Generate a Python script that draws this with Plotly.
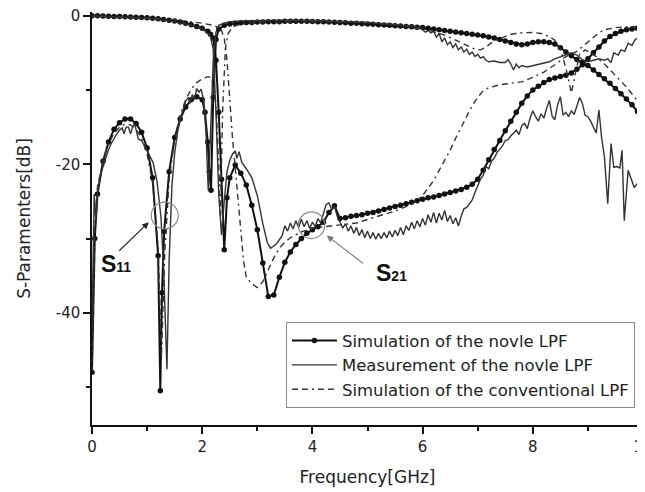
import plotly.graph_objects as go

# ---------------- data ----------------
# Simulation of the novel LPF
F_S21_SIM = [0.0,0.1,0.2,0.3,0.4,0.5,0.6,0.7,0.8,0.9,1.0,1.1,1.2,1.3,1.4,1.5,1.6,1.7,1.8,1.9,2.0,2.1,2.15,2.2,2.25,2.3,2.35,2.4,2.45,2.5,
             2.6,2.7,2.8,2.9,3.0,3.1,3.2,3.3,3.4,3.5,3.6,3.7,3.8,3.9,4.0,4.1,4.2,4.3,4.4,4.5,4.6,4.7,4.8,4.9,5.0,
             5.1,5.2,5.3,5.4,5.5,5.6,5.7,5.8,5.9,6.0,6.1,6.2,6.3,6.4,6.5,6.6,6.7,6.8,6.9,7.0,7.1,7.2,7.3,7.4,7.5,
             7.6,7.7,7.8,7.9,8.0,8.1,8.2,8.3,8.4,8.5,8.6,8.7,8.8,8.9,9.0,9.1,9.2,9.3,9.4,9.5,9.6,9.7,9.8,9.9,10.0]
S21_SIM = [0.0,-0.02,-0.04,-0.06,-0.09,-0.12,-0.15,-0.18,-0.21,-0.25,-0.29,-0.34,-0.42,-0.52,-0.62,-0.72,-0.85,-1.0,-1.2,-1.45,-1.7,-2.1,-2.5,-3.0,-6.0,-13.0,-22.0,-31.5,-24.5,-21.8,
           -20.1,-21.2,-22.8,-25.5,-28.8,-33.3,-37.8,-37.6,-35.2,-33.2,-31.8,-30.8,-30.0,-29.3,-28.8,-28.4,-27.8,-26.5,-25.6,-27.3,-27.2,-27.0,-26.9,-26.8,-26.6,
           -26.5,-26.3,-26.1,-25.9,-25.7,-25.5,-25.3,-25.1,-24.9,-24.7,-24.5,-24.4,-24.2,-24.0,-23.8,-23.6,-23.4,-23.1,-22.7,-22.0,-20.8,-19.4,-18.0,-16.8,-15.5,
           -14.2,-13.0,-11.8,-10.8,-10.0,-9.5,-9.0,-8.6,-8.4,-8.2,-8.0,-7.7,-7.2,-6.6,-5.8,-5.0,-4.2,-3.4,-2.8,-2.4,-2.1,-1.9,-1.8,-1.7,-1.6]

F_S11_SIM = [0.0,0.05,0.1,0.2,0.3,0.4,0.5,0.6,0.7,0.8,0.9,1.0,1.1,1.2,1.24,1.27,1.31,1.4,1.5,1.6,1.7,1.8,1.9,2.0,2.05,2.1,2.13,2.16,2.2,2.25,
             2.3,2.4,2.5,2.6,2.7,2.8,2.9,3.0,3.1,3.2,3.3,3.4,3.5,3.6,3.7,3.8,3.9,4.0,4.1,4.2,4.3,4.4,4.5,4.6,4.7,4.8,4.9,5.0,
             5.1,5.2,5.3,5.4,5.5,5.6,5.7,5.8,5.9,6.0,6.1,6.2,6.3,6.4,6.5,6.6,6.7,6.8,6.9,7.0,7.1,7.2,7.3,7.4,7.5,
             7.6,7.7,7.8,7.9,8.0,8.1,8.2,8.3,8.4,8.5,8.6,8.7,8.8,8.9,9.0,9.1,9.2,9.3,9.4,9.5,9.6,9.7,9.8,9.9,10.0]
S11_SIM = [-48.0,-30.0,-24.0,-19.6,-17.0,-15.3,-14.4,-13.9,-13.9,-14.5,-15.7,-17.8,-21.8,-32.3,-50.5,-37.3,-29.0,-21.0,-16.4,-13.9,-12.3,-11.3,-10.9,-11.3,-13.0,-17.0,-21.0,-23.5,-11.0,-3.2,
           -1.8,-1.3,-1.1,-1.0,-0.95,-0.9,-0.9,-0.85,-0.85,-0.8,-0.8,-0.8,-0.75,-0.75,-0.75,-0.75,-0.75,-0.78,-0.8,-0.82,-0.85,-0.88,-0.9,-0.95,-1.0,-1.03,-1.07,-1.1,
           -1.15,-1.2,-1.25,-1.3,-1.35,-1.4,-1.45,-1.5,-1.55,-1.6,-1.7,-1.8,-1.9,-2.0,-2.1,-2.2,-2.3,-2.4,-2.5,-2.6,-2.7,-2.85,-3.0,-3.2,-3.4,
           -3.6,-3.8,-3.9,-3.8,-3.6,-3.5,-3.5,-3.6,-3.8,-4.3,-4.9,-5.4,-5.9,-6.3,-6.7,-7.3,-7.9,-8.5,-9.1,-9.8,-10.5,-11.2,-12.0,-12.9,-13.8]

# Measurement of the novel LPF
F_S21_MEAS = [0.0,0.5,1.0,1.4,1.7,1.9,2.0,2.1,2.15,2.2,2.25,2.3,2.35,2.4,2.45,2.5,2.55,2.6,2.63,2.67,2.72,2.8,2.9,3.0,3.1,3.18,3.24,3.3,3.36,3.45,
              3.5,3.55,3.6,3.65,3.7,3.75,3.8,3.85,3.9,3.95,4.0,4.05,4.1,4.15,4.2,4.25,4.3,4.35,4.4,4.45,4.5,
              4.55,4.6,4.65,4.7,4.75,4.8,4.85,4.9,4.95,5.0,5.05,5.1,5.15,5.2,5.25,5.3,5.35,5.4,5.45,5.5,5.55,5.6,5.65,5.7,5.75,5.8,5.85,5.9,5.95,6.0,
              6.05,6.1,6.15,6.2,6.25,6.3,6.35,6.4,6.45,6.5,6.55,6.6,6.65,6.7,6.75,6.8,6.85,6.9,6.95,7.0,7.05,7.1,7.15,7.2,7.25,7.3,7.35,7.4,7.45,7.5,7.55,7.6,
              7.7,7.75,7.8,7.85,7.9,7.95,8.0,8.05,8.1,8.15,8.2,8.25,8.3,8.35,8.4,8.45,8.5,8.55,8.6,8.65,8.7,8.75,8.8,8.85,8.9,8.95,9.0,9.05,9.1,9.15,9.2,9.25,9.3,
              9.36,9.42,9.47,9.52,9.58,9.62,9.66,9.73,9.78,9.84,9.9,9.96,10.0]
S21_MEAS = [-0.05,-0.18,-0.35,-0.7,-1.1,-1.5,-1.8,-2.3,-2.8,-4.5,-13.0,-24.0,-29.5,-25.0,-21.0,-19.5,-18.6,-18.2,-19.2,-18.3,-19.8,-20.6,-21.8,-24.2,-28.0,-30.5,-31.3,-31.0,-30.6,-29.6,
            -28.3,-29.0,-27.9,-28.7,-27.6,-28.5,-27.4,-28.4,-27.6,-28.6,-27.8,-28.4,-27.3,-27.9,-26.8,-25.4,-25.2,-26.1,-25.6,-27.0,-27.8,
            -28.6,-28.0,-29.0,-28.3,-29.3,-28.5,-29.6,-28.8,-29.9,-29.0,-30.0,-29.2,-30.1,-29.3,-30.0,-29.2,-29.9,-29.0,-29.8,-28.9,-29.6,-28.5,-29.5,-28.3,-28.9,-27.8,-28.7,-27.6,-28.4,-27.3,
            -28.2,-26.8,-27.8,-26.5,-27.9,-26.6,-27.5,-26.2,-27.7,-26.9,-28.0,-27.2,-28.3,-27.0,-26.0,-25.8,-25.3,-24.8,-23.8,-22.8,-22.0,-21.5,-20.3,-20.6,-19.6,-19.2,-18.4,-18.0,-17.5,-16.8,-16.7,-16.2,
            -15.4,-16.0,-14.8,-14.5,-15.2,-13.8,-12.8,-13.6,-14.2,-13.2,-13.8,-12.5,-11.4,-13.5,-14.0,-12.0,-10.9,-13.4,-13.0,-13.6,-12.8,-13.3,-12.2,-11.0,-11.8,-13.4,-13.6,-14.2,-15.0,-15.8,-12.7,-16.5,-19.0,
            -25.3,-17.2,-20.4,-20.3,-20.5,-18.1,-27.6,-20.8,-22.0,-23.1,-22.6,-21.8,-16.8]

F_S11_MEAS = [0.0,0.02,0.04,0.07,0.1,0.15,0.2,0.25,0.3,0.35,0.4,0.45,0.5,0.55,0.58,0.62,0.66,0.7,0.74,0.78,0.84,0.9,0.96,1.05,1.11,1.18,1.25,1.3,1.36,1.4,
              1.45,1.5,1.55,1.6,1.65,1.7,1.75,1.78,1.82,1.86,1.9,1.94,1.98,2.03,2.07,2.11,2.16,2.2,2.25,2.3,2.4,2.5,2.7,3.0,3.5,4.0,4.5,5.0,5.5,5.8,
              5.9,5.95,6.0,6.05,6.1,6.15,6.2,6.25,6.3,6.35,6.4,6.45,6.5,6.55,6.6,6.65,6.7,6.75,6.8,6.85,6.9,6.95,7.0,7.05,7.1,7.15,7.2,7.3,7.4,7.5,
              7.55,7.6,7.65,7.7,7.75,7.8,7.9,8.0,8.1,8.2,8.3,8.4,8.5,8.6,8.7,8.8,8.9,9.0,9.1,9.2,9.3,9.36,9.42,9.47,9.55,9.6,9.67,9.73,9.8,9.85,9.9,9.96,10.0]
S11_MEAS = [-42.0,-30.0,-24.0,-27.5,-24.0,-21.5,-20.3,-19.0,-18.0,-17.2,-16.5,-15.9,-15.4,-15.1,-15.9,-15.0,-15.0,-15.9,-14.9,-14.7,-16.6,-16.8,-17.6,-18.8,-19.8,-22.3,-27.0,-34.0,-47.6,-33.0,
            -23.0,-18.5,-15.8,-14.0,-12.6,-11.5,-11.0,-11.8,-10.6,-11.3,-9.8,-10.3,-9.9,-11.5,-16.0,-23.5,-14.0,-6.0,-2.2,-1.3,-1.0,-0.8,-0.7,-0.65,-0.6,-0.65,-0.75,-0.9,-1.2,-1.5,
            -1.8,-1.6,-1.9,-2.2,-2.0,-2.3,-2.1,-2.9,-2.4,-3.5,-3.0,-3.9,-3.5,-4.3,-3.8,-4.6,-4.2,-4.9,-4.5,-5.2,-4.9,-5.5,-5.2,-5.7,-5.5,-6.0,-6.2,-6.1,-6.3,-6.3,
            -5.9,-6.5,-7.3,-6.5,-7.0,-6.7,-6.9,-6.7,-6.5,-6.3,-6.2,-5.8,-5.5,-5.2,-5.0,-5.3,-5.9,-6.2,-6.0,-5.8,-6.0,-5.8,-6.3,-5.0,-5.3,-4.6,-4.8,-3.7,-4.0,-3.3,-3.0,-2.3,-2.0]

# Simulation of the conventional LPF
F_S21_CONV = [0.0,0.5,1.0,1.5,1.8,2.0,2.2,2.3,2.35,2.4,2.45,2.5,2.55,2.6,2.65,2.7,2.75,2.8,2.9,3.0,3.1,3.2,3.3,3.4,3.5,3.6,3.8,4.0,4.4,4.8,
              5.1,5.5,5.8,6.0,6.2,6.4,6.5,6.6,6.7,6.8,6.9,7.0,7.1,7.2,7.4,7.6,7.8,8.0,8.2,8.4,8.6,8.8,9.0,9.1,9.2,9.3,9.5,9.7,10.0]
S21_CONV = [0.0,-0.1,-0.25,-0.55,-0.8,-1.0,-1.3,-1.6,-2.0,-3.0,-6.0,-12.0,-16.5,-20.5,-25.0,-29.0,-33.0,-35.2,-36.1,-36.6,-35.8,-34.2,-32.6,-31.3,-30.5,-29.9,-29.1,-28.6,-28.2,-27.9,
            -27.2,-26.3,-25.4,-24.2,-22.2,-19.6,-18.1,-16.5,-15.0,-13.6,-12.1,-11.0,-10.1,-9.7,-9.3,-9.1,-8.9,-8.3,-7.6,-6.6,-5.5,-4.8,-3.6,-2.9,-2.3,-1.9,-1.6,-1.5,-1.4]

F_S11_CONV = [0.0,0.05,0.1,0.2,0.3,0.4,0.5,0.6,0.7,0.8,0.9,1.0,1.1,1.2,1.26,1.32,1.4,1.5,1.6,1.7,1.8,1.9,2.0,2.1,2.15,2.2,2.25,2.3,2.33,2.37,
              2.42,2.47,2.55,2.7,3.0,3.5,4.0,4.5,5.0,5.5,5.8,6.0,6.2,6.4,6.6,6.8,6.95,7.05,7.15,7.3,7.45,7.6,7.8,8.0,8.15,8.3,8.4,8.5,8.6,8.7,
              8.78,8.85,8.95,9.1,9.3,9.5,9.7,9.85,10.0]
S11_CONV = [-48.0,-28.0,-23.0,-19.5,-17.3,-15.8,-15.0,-14.6,-14.7,-15.3,-16.5,-18.6,-22.5,-31.0,-46.0,-32.0,-22.0,-16.6,-13.4,-11.3,-9.9,-9.0,-8.5,-8.2,-8.3,-9.2,-12.0,-20.0,-27.0,-13.0,
            -4.5,-2.4,-1.5,-1.1,-0.9,-0.8,-0.8,-0.85,-0.95,-1.2,-1.4,-1.7,-2.1,-2.6,-3.3,-4.0,-4.5,-4.6,-4.2,-3.4,-2.9,-2.5,-2.3,-2.25,-2.4,-2.8,-3.3,-4.5,-7.0,-10.4,
            -7.5,-5.2,-4.6,-5.2,-6.5,-8.0,-9.6,-11.0,-12.4]

X_TICKS = [0, 2, 4, 6, 8, 10]
Y_TICKS = [0, -20, -40]
Y_TICK_TEXT = ["0", "-20", "-40"]

NAMES = ["Simulation of the novle LPF", "Measurement of the novle LPF", "Simulation of the conventional LPF"]

# ---------------- styles ----------------
SIM_LINE = dict(color="#111111", width=2)
SIM_MARK = dict(symbol="circle", size=5.5, color="#111111")
MEAS_LINE = dict(color="#333333", width=1.4)
CONV_LINE = dict(color="#333333", width=1.4, dash="6px,4px,6px,4px,2px,4px")
FONT = "DejaVu Sans"

fig = go.Figure()

fig.add_trace(go.Scatter(x=F_S21_SIM, y=S21_SIM, mode="lines+markers", name=NAMES[0],
                         legendgroup="sim", line=SIM_LINE, marker=SIM_MARK))
fig.add_trace(go.Scatter(x=F_S11_SIM, y=S11_SIM, mode="lines+markers", name=NAMES[0],
                         legendgroup="sim", showlegend=False, line=SIM_LINE, marker=SIM_MARK))
fig.add_trace(go.Scatter(x=F_S21_MEAS, y=S21_MEAS, mode="lines", name=NAMES[1],
                         legendgroup="meas", line=MEAS_LINE))
fig.add_trace(go.Scatter(x=F_S11_MEAS, y=S11_MEAS, mode="lines", name=NAMES[1],
                         legendgroup="meas", showlegend=False, line=MEAS_LINE))
fig.add_trace(go.Scatter(x=F_S21_CONV, y=S21_CONV, mode="lines", name=NAMES[2],
                         legendgroup="conv", line=CONV_LINE))
fig.add_trace(go.Scatter(x=F_S11_CONV, y=S11_CONV, mode="lines", name=NAMES[2],
                         legendgroup="conv", showlegend=False, line=CONV_LINE))

# annotation circles
fig.add_shape(type="circle", xref="x", yref="y", x0=1.075, x1=1.565, y0=-28.7, y1=-25.1,
              line=dict(color="#8a8a8a", width=1.2))
fig.add_shape(type="circle", xref="x", yref="y", x0=3.745, x1=4.225, y0=-30.0, y1=-26.4,
              line=dict(color="#8a8a8a", width=1.2))

# arrows
fig.add_annotation(x=1.03, y=-27.8, ax=-31, ay=30, xref="x", yref="y", axref="pixel", ayref="pixel",
                   showarrow=True, arrowhead=2, arrowsize=1.2, arrowwidth=1.1, arrowcolor="#222222", text="")
fig.add_annotation(x=4.26, y=-29.6, ax=38, ay=29, xref="x", yref="y", axref="pixel", ayref="pixel",
                   showarrow=True, arrowhead=2, arrowsize=1.2, arrowwidth=1.1, arrowcolor="#777777", text="")

# labels
fig.add_annotation(x=0.12, y=-33.4, xref="x", yref="y", xanchor="left", yanchor="middle", showarrow=False,
                   text="<b>S</b><span style='font-size:14px'><b>11</b></span>",
                   font=dict(family="Liberation Sans", size=23, color="#111111"))
fig.add_annotation(x=5.12, y=-34.7, xref="x", yref="y", xanchor="left", yanchor="middle", showarrow=False,
                   text="<b>S</b><span style='font-size:14px'><b>21</b></span>",
                   font=dict(family="Liberation Sans", size=23, color="#111111"))

# page body adds an 8px margin, so the figure is 8px smaller and its margins shifted
fig.update_layout(
    width=637, height=484,
    margin=dict(l=84, r=2, t=4, b=67, autoexpand=False),
    paper_bgcolor="white", plot_bgcolor="white",
    font=dict(family=FONT, size=15, color="#222222"),
    showlegend=True,
    legend=dict(x=0.352, y=0.249, xanchor="left", yanchor="top",
                bgcolor="white", bordercolor="#8a8a8a", borderwidth=1,
                font=dict(family=FONT, size=16.5, color="#222222"),
                itemwidth=45, tracegroupgap=0),
    xaxis=dict(range=[0, 10], tickvals=X_TICKS, showline=True, linecolor="#111111", linewidth=1.5,
               ticks="outside", ticklen=7, tickwidth=1.5, tickcolor="#111111",
               minor=dict(ticks="outside", ticklen=4, tickwidth=1.5, tickcolor="#111111", dtick=1, tick0=0),
               showgrid=False, zeroline=False, mirror=False, ticklabeloverflow="allow",
               tickfont=dict(family=FONT, size=15),
               title=dict(text="Frequency[GHz]", font=dict(family=FONT, size=17), standoff=16)),
    yaxis=dict(range=[-55.1, 0.5], tickvals=Y_TICKS, ticktext=Y_TICK_TEXT, showline=True, linecolor="#111111", linewidth=1.5,
               ticks="outside", ticklen=7, tickwidth=1.5, tickcolor="#111111",
               minor=dict(ticks="outside", ticklen=4, tickwidth=1.5, tickcolor="#111111", dtick=10, tick0=0),
               showgrid=False, zeroline=False, mirror=False, ticklabeloverflow="allow",
               tickfont=dict(family=FONT, size=15),
               title=dict(text="S-Paramenters[dB]", font=dict(family=FONT, size=17), standoff=21)),
)

fig.write_html("out.html")
